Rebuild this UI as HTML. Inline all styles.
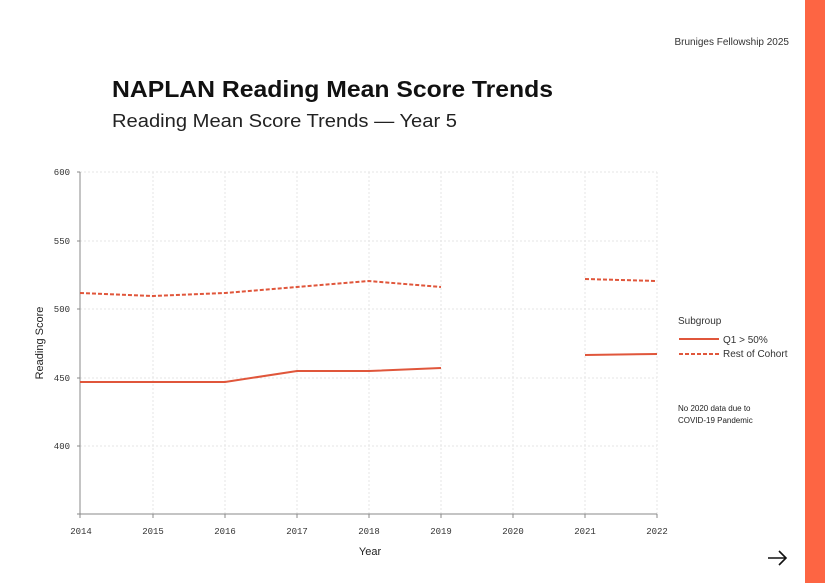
<!DOCTYPE html>
<html><head><meta charset="utf-8"><style>
body{margin:0;width:825px;height:583px;background:#fff;overflow:hidden;position:relative;font-family:"Liberation Sans",sans-serif;}
.bar{position:absolute;left:805px;top:0;width:20px;height:583px;background:#fd6543;}
</style></head><body>
<div class="bar"></div>
<svg width="825" height="583" style="position:absolute;left:0;top:0" font-family="Liberation Sans, sans-serif">
<text x="789" y="45" font-size="10" fill="#333" text-anchor="end">Bruniges Fellowship 2025</text>
<text x="112" y="97" font-size="23" font-weight="bold" fill="#111" textLength="441" lengthAdjust="spacingAndGlyphs">NAPLAN Reading Mean Score Trends</text>
<text x="112" y="127" font-size="18" fill="#222" textLength="345" lengthAdjust="spacingAndGlyphs">Reading Mean Score Trends — Year 5</text>
<g stroke="#e6e6e6" stroke-dasharray="2,2" stroke-width="1">
<line x1="80" x2="657" y1="172" y2="172"/><line x1="80" x2="657" y1="241" y2="241"/><line x1="80" x2="657" y1="309" y2="309"/><line x1="80" x2="657" y1="378" y2="378"/><line x1="80" x2="657" y1="446" y2="446"/>
<line x1="153" x2="153" y1="172" y2="514"/><line x1="225" x2="225" y1="172" y2="514"/><line x1="297" x2="297" y1="172" y2="514"/><line x1="369" x2="369" y1="172" y2="514"/><line x1="441" x2="441" y1="172" y2="514"/><line x1="513" x2="513" y1="172" y2="514"/><line x1="585" x2="585" y1="172" y2="514"/><line x1="657" x2="657" y1="172" y2="514"/>
</g>
<g stroke="#888" stroke-width="1">
<line x1="80" x2="80" y1="172" y2="514"/><line x1="80" x2="657" y1="514" y2="514"/>
<line x1="77" x2="80" y1="172" y2="172"/><line x1="77" x2="80" y1="241" y2="241"/><line x1="77" x2="80" y1="309" y2="309"/><line x1="77" x2="80" y1="378" y2="378"/><line x1="77" x2="80" y1="446" y2="446"/><line x1="77" x2="80" y1="514" y2="514"/>
<line x1="80" x2="80" y1="514" y2="518"/><line x1="153" x2="153" y1="514" y2="518"/><line x1="225" x2="225" y1="514" y2="518"/><line x1="297" x2="297" y1="514" y2="518"/><line x1="369" x2="369" y1="514" y2="518"/><line x1="441" x2="441" y1="514" y2="518"/><line x1="513" x2="513" y1="514" y2="518"/><line x1="585" x2="585" y1="514" y2="518"/><line x1="657" x2="657" y1="514" y2="518"/>
</g>
<g font-family="Liberation Mono, monospace" font-size="9" fill="#333" text-anchor="end">
<text x="70" y="175">600</text><text x="70" y="244">550</text><text x="70" y="312">500</text><text x="70" y="381">450</text><text x="70" y="449">400</text>
</g>
<g font-family="Liberation Mono, monospace" font-size="9" fill="#333" text-anchor="middle">
<text x="81" y="534">2014</text><text x="153" y="534">2015</text><text x="225" y="534">2016</text><text x="297" y="534">2017</text><text x="369" y="534">2018</text><text x="441" y="534">2019</text><text x="513" y="534">2020</text><text x="585" y="534">2021</text><text x="657" y="534">2022</text>
</g>
<text x="370" y="555" font-size="11" fill="#222" text-anchor="middle">Year</text>
<text transform="translate(43,343) rotate(-90)" font-size="11" fill="#222" text-anchor="middle">Reading Score</text>
<g fill="none" stroke="#e0563b" stroke-width="2">
<polyline points="80,382 153,382 225,382 297,371 369,371 441,368"/>
<polyline points="585,355 657,354"/>
<g stroke-dasharray="4,2">
<polyline points="80,293 153,296 225,293 297,287 369,281 441,287"/>
<polyline points="585,279 657,281"/>
</g>
<line x1="679" x2="719" y1="339" y2="339"/>
<line x1="679" x2="719" y1="354" y2="354" stroke-dasharray="4,2"/>
</g>
<text x="678" y="324" font-size="10" fill="#333">Subgroup</text>
<text x="723" y="343" font-size="10" fill="#333">Q1 &gt; 50%</text>
<text x="723" y="357" font-size="10" fill="#333">Rest of Cohort</text>
<text x="678" y="411" font-size="8" fill="#222">No 2020 data due to</text>
<text x="678" y="423" font-size="8" fill="#222">COVID-19 Pandemic</text>
<g stroke="#111" stroke-width="1.6" fill="none"><line x1="768" x2="786" y1="558" y2="558"/><polyline points="779,551 786,558 779,565"/></g>
</svg>
</body></html>
